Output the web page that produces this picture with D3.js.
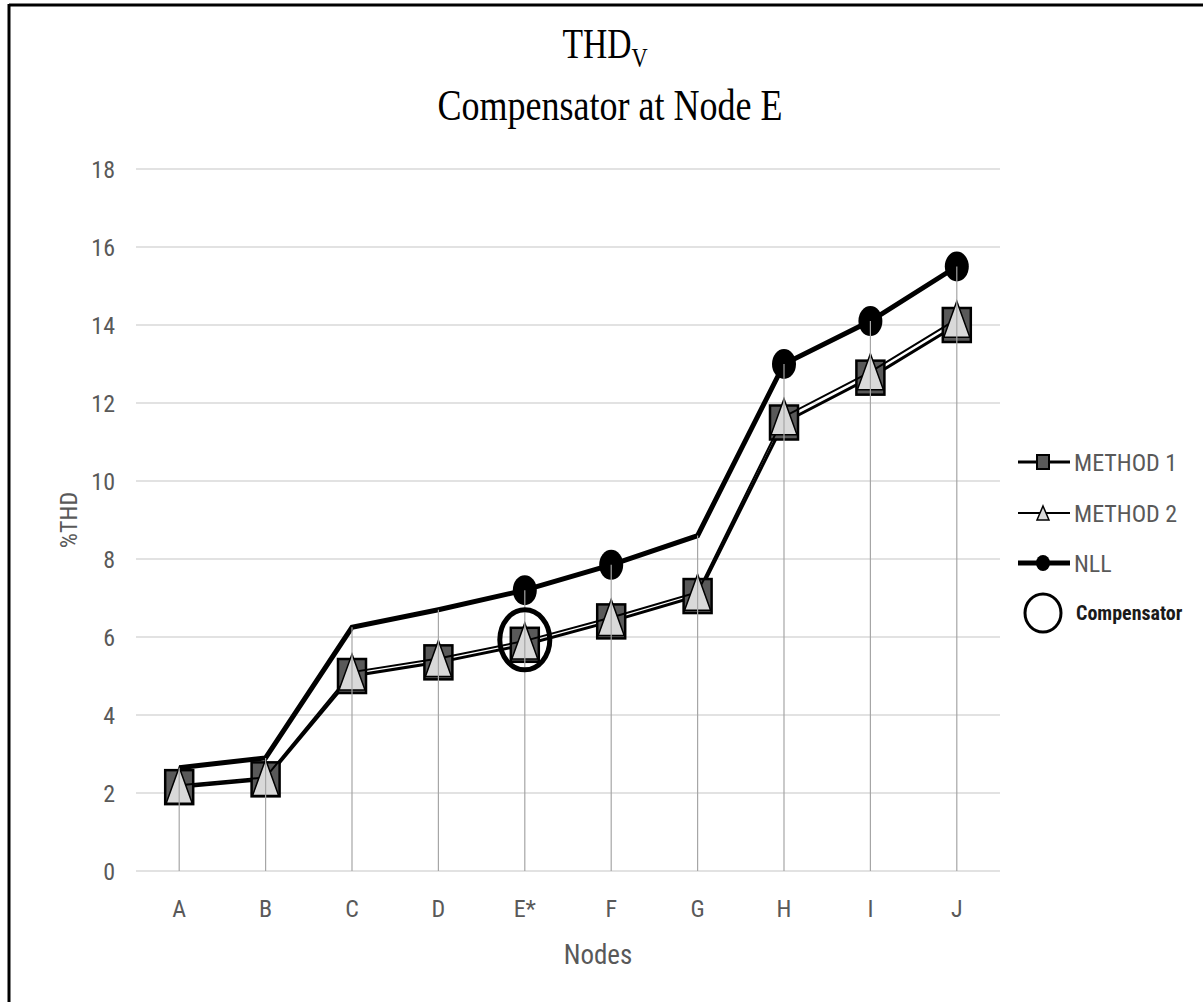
<!DOCTYPE html>
<html>
<head>
<meta charset="utf-8">
<script src="https://cdn.jsdelivr.net/npm/d3@7"></script>
<style>
  body { margin: 0; background: #fff; }
  text { font-family: "Liberation Sans Narrow", "Roboto Condensed", "Liberation Sans", sans-serif; fill: #595959; }
</style>
</head>
<body>
<div id="chart"></div>
<script>
// Chart data
const nodes = ["A", "B", "C", "D", "E*", "F", "G", "H", "I", "J"];
const method1 = [2.15, 2.35, 5.0, 5.35, 5.8, 6.4, 7.05, 11.5, 12.65, 14.0];
const method2 = [2.2, 2.4, 5.1, 5.45, 5.9, 6.5, 7.15, 11.65, 12.8, 14.15];
const nll = [2.65, 2.9, 6.25, 6.7, 7.2, 7.85, 8.6, 13.0, 14.1, 15.5];
const nllMarked = ["E*", "F", "H", "I", "J"];
const compensatorNode = "E*";
const yTicks = [0, 2, 4, 6, 8, 10, 12, 14, 16, 18];

const width = 1203, height = 1002;
const margin = { left: 136, right: 203, top: 169, bottom: 131 };

const svg = d3.select("#chart").append("svg")
    .attr("width", width)
    .attr("height", height);

// frame (only top and left edges are visible in the picture)
svg.append("line").attr("x1", 9).attr("x2", width).attr("y1", 5).attr("y2", 5)
    .attr("stroke", "#000").attr("stroke-width", 3);
svg.append("line").attr("x1", 9).attr("x2", 9).attr("y1", 4).attr("y2", height)
    .attr("stroke", "#000").attr("stroke-width", 3);

const x = d3.scaleBand()
    .domain(nodes)
    .range([margin.left, width - margin.right]);

const y = d3.scaleLinear()
    .domain([0, 18])
    .range([height - margin.bottom, margin.top]);

const cx = d => x(d) + x.bandwidth() / 2;

// gridlines
svg.append("g")
    .selectAll("line")
    .data(yTicks)
    .join("line")
    .attr("x1", margin.left)
    .attr("x2", width - margin.right)
    .attr("y1", d => y(d))
    .attr("y2", d => y(d))
    .attr("stroke", "#d9d9d9")
    .attr("stroke-width", 1.5);

// y tick labels
svg.append("g")
    .selectAll("text")
    .data(yTicks)
    .join("text")
    .attr("x", 115)
    .attr("y", d => y(d))
    .attr("dy", "0.36em")
    .attr("text-anchor", "end")
    .style("font-size", "24px")
    .text(d => d);

// x tick labels
svg.append("g")
    .selectAll("text")
    .data(nodes)
    .join("text")
    .attr("x", d => cx(d))
    .attr("y", 908)
    .attr("dy", "0.36em")
    .attr("text-anchor", "middle")
    .style("font-size", "24px")
    .text(d => d);

const line = d3.line()
    .x(d => cx(d.node))
    .y(d => y(d.value));

const pts = arr => nodes.map((n, i) => ({ node: n, value: arr[i] }));

// METHOD 1
svg.append("path")
    .datum(pts(method1))
    .attr("d", line)
    .attr("fill", "none")
    .attr("stroke", "#000")
    .attr("stroke-width", 3);

svg.append("g")
    .selectAll("rect")
    .data(pts(method1))
    .join("rect")
    .attr("x", d => cx(d.node) - 14)
    .attr("y", d => y(d.value) - 17)
    .attr("width", 28)
    .attr("height", 34)
    .attr("fill", "#595959")
    .attr("stroke", "#000")
    .attr("stroke-width", 2.5);

// METHOD 2
const tri = (w, h) => `M0,${-h / 2}L${w / 2},${h / 2}L${-w / 2},${h / 2}Z`;

svg.append("path")
    .datum(pts(method2))
    .attr("d", line)
    .attr("fill", "none")
    .attr("stroke", "#000")
    .attr("stroke-width", 2);

svg.append("g")
    .selectAll("path")
    .data(pts(method2))
    .join("path")
    .attr("transform", d => `translate(${cx(d.node)},${y(d.value)})`)
    .attr("d", tri(26, 36))
    .attr("fill", "#d9d9d9")
    .attr("stroke", "#000")
    .attr("stroke-width", 1.5);

// NLL
svg.append("path")
    .datum(pts(nll))
    .attr("d", line)
    .attr("fill", "none")
    .attr("stroke", "#000")
    .attr("stroke-width", 5);

svg.append("g")
    .selectAll("ellipse")
    .data(pts(nll).filter(d => nllMarked.includes(d.node)))
    .join("ellipse")
    .attr("cx", d => cx(d.node))
    .attr("cy", d => y(d.value))
    .attr("rx", 12)
    .attr("ry", 15)
    .attr("fill", "#000");

// drop lines from the highest value to the axis, showing through the markers
svg.append("g")
    .selectAll("line")
    .data(nodes)
    .join("line")
    .attr("x1", d => cx(d))
    .attr("x2", d => cx(d))
    .attr("y1", (d, i) => y(Math.max(nll[i], method1[i], method2[i])))
    .attr("y2", y(0))
    .attr("stroke", "#a6a6a6")
    .attr("stroke-width", 1.2);

// compensator ring
const ci = nodes.indexOf(compensatorNode);
svg.append("ellipse")
    .attr("cx", cx(compensatorNode))
    .attr("cy", y((method1[ci] + method2[ci]) / 2) - 3)
    .attr("rx", 25)
    .attr("ry", 30)
    .attr("fill", "none")
    .attr("stroke", "#000")
    .attr("stroke-width", 5);

// titles
const title = svg.append("text")
    .attr("transform", "translate(605,58) scale(0.8,1)")
    .attr("text-anchor", "middle")
    .style("font-family", "'Liberation Serif', 'DejaVu Serif', serif")
    .style("fill", "#000")
    .style("font-size", "42px");
title.append("tspan").text("THD");
title.append("tspan").attr("dy", 9).style("font-size", "28px").text("V");

svg.append("text")
    .attr("x", 610)
    .attr("y", 120)
    .attr("text-anchor", "middle")
    .attr("textLength", 345)
    .attr("lengthAdjust", "spacingAndGlyphs")
    .style("font-family", "'Liberation Serif', 'DejaVu Serif', serif")
    .style("fill", "#000")
    .style("font-size", "44px")
    .text("Compensator at Node E");

// axis titles
svg.append("text")
    .attr("transform", "translate(68,520) rotate(-90)")
    .attr("dy", "0.36em")
    .attr("text-anchor", "middle")
    .style("font-size", "24px")
    .text("%THD");

svg.append("text")
    .attr("x", 598)
    .attr("y", 954)
    .attr("dy", "0.36em")
    .attr("text-anchor", "middle")
    .style("font-size", "27px")
    .text("Nodes");

// legend
const legendItems = ["METHOD 1", "METHOD 2", "NLL"];
const legendY = [462, 513, 563];
const lg = svg.append("g");

legendItems.forEach((name, i) => {
    const ly = legendY[i];
    lg.append("line")
        .attr("x1", 1018).attr("x2", 1070)
        .attr("y1", ly).attr("y2", ly)
        .attr("stroke", "#000")
        .attr("stroke-width", [3, 2, 5][i]);
    if (i === 0) {
        lg.append("rect")
            .attr("x", 1037).attr("y", ly - 7)
            .attr("width", 12).attr("height", 14)
            .attr("fill", "#595959").attr("stroke", "#000").attr("stroke-width", 2);
    } else if (i === 1) {
        lg.append("path")
            .attr("transform", `translate(1043,${ly})`)
            .attr("d", tri(12, 14))
            .attr("fill", "#d9d9d9").attr("stroke", "#000").attr("stroke-width", 1.5);
    } else {
        lg.append("ellipse")
            .attr("cx", 1043).attr("cy", ly)
            .attr("rx", 7).attr("ry", 8)
            .attr("fill", "#000");
    }
    lg.append("text")
        .attr("x", 1074)
        .attr("y", ly)
        .attr("dy", "0.36em")
        .style("font-size", "24px")
        .text(name);
});

lg.append("ellipse")
    .attr("cx", 1043).attr("cy", 613)
    .attr("rx", 18).attr("ry", 19)
    .attr("fill", "none")
    .attr("stroke", "#000")
    .attr("stroke-width", 3);

lg.append("text")
    .attr("x", 1076)
    .attr("y", 613)
    .attr("dy", "0.36em")
    .style("font-size", "20px")
    .style("font-weight", "bold")
    .style("fill", "#1a1a1a")
    .text("Compensator");
</script>
</body>
</html>
